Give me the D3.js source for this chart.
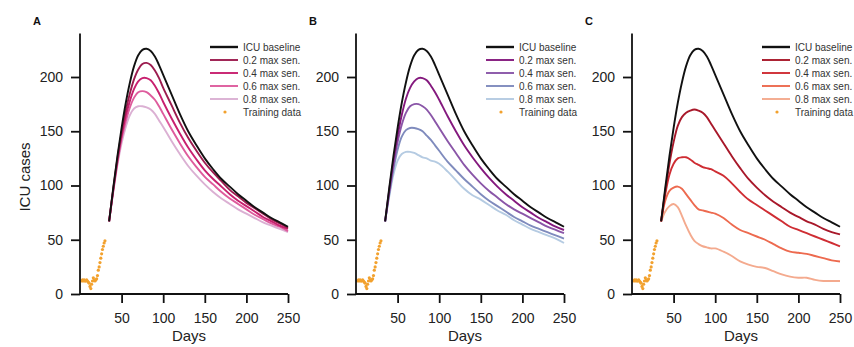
<!DOCTYPE html>
<html>
<head>
<meta charset="utf-8">
<script src="https://cdn.jsdelivr.net/npm/d3@7"></script>
<style>
  body { margin: 0; background: #fff; font-family: "Liberation Sans", Arial, sans-serif; }
  svg { display: block; }
</style>
</head>
<body>
<svg id="chart" width="854" height="347"></svg>
<script>
// days where the projection curves are sampled
let days = [35, 40, 45, 50, 55, 60, 65, 70, 75, 80, 85, 90, 95, 100,
    110, 120, 130, 140, 150, 160, 170, 180, 190, 200, 210, 220, 230, 240, 250];

let baseline = [67, 98, 127, 153, 176, 195, 210, 220, 225, 226, 224, 219, 211, 202,
    184, 166, 150, 137, 125, 115, 106, 99, 92, 86, 80, 75, 70, 66, 62];

// panel A
let a02 = [67, 97, 125, 149, 169, 185, 198, 207, 212, 213, 211, 206, 199, 190,
    174, 158, 144, 132, 121, 112, 104, 96, 90, 84, 79, 74, 69, 65, 61];
let a04 = [67, 96, 123, 146, 164, 178, 189, 196, 199, 199, 197, 192, 185, 177,
    162, 148, 135, 124, 114, 106, 99, 92, 86, 81, 76, 71, 67, 63, 60];
let a06 = [67, 95, 121, 143, 159, 172, 181, 186, 187, 186, 183, 179, 173, 166,
    152, 139, 127, 117, 108, 101, 94, 88, 83, 78, 73, 69, 65, 62, 58];
let a08 = [67, 94, 119, 139, 154, 165, 171, 173, 173, 172, 170, 166, 160, 154,
    141, 129, 118, 109, 101, 94, 88, 83, 78, 74, 70, 66, 63, 60, 57];

// panel B
let b02 = [67, 96, 123, 146, 165, 180, 190, 196, 199, 199, 197, 192, 186, 179,
    164, 150, 137, 126, 116, 107, 99, 92, 86, 80, 75, 70, 66, 62, 59];
let b04 = [67, 94, 119, 140, 156, 167, 173, 175, 175, 173, 170, 165, 159, 153,
    141, 130, 119, 110, 102, 95, 89, 83, 78, 74, 70, 66, 62, 59, 56];
let b06 = [67, 92, 115, 133, 145, 151, 153, 153, 152, 150, 146, 142, 137, 132,
    122, 114, 106, 99, 92, 86, 81, 76, 71, 67, 63, 60, 57, 54, 51];
let b08 = [67, 90, 110, 123, 129, 131, 131, 130, 128, 126, 125, 123, 122, 120,
    113, 105, 97, 91, 87, 82, 77, 73, 68, 64, 60, 57, 54, 51, 47];

// panel C
let c02 = [67, 95, 120, 140, 155, 163, 167, 169, 170, 169, 167, 163, 157, 151,
    139, 127, 116, 106, 98, 91, 85, 80, 75, 71, 67, 64, 60, 57, 55];
let c04 = [67, 92, 110, 120, 125, 126, 126, 124, 121, 119, 117, 116, 115, 113,
    109, 102, 94, 87, 82, 77, 72, 67, 62, 59, 56, 53, 50, 47, 44];
let c06 = [67, 86, 95, 98, 99, 97, 92, 87, 82, 78, 77, 76, 75, 74,
    70, 64, 59, 56, 53, 50, 46, 42, 39, 38, 37, 35, 33, 31, 30];
let c08 = [67, 76, 81, 83, 80, 72, 63, 55, 49, 46, 44, 43, 42, 42,
    39, 35, 30, 27, 25, 24, 21, 18, 16, 15, 15, 13, 12, 12, 12];

// training data
let trainDays = [2, 3, 4, 5, 6, 7, 8, 9, 10, 11, 12, 13, 14, 15, 16, 17, 18, 19, 20,
    21, 22, 23, 24, 25, 26, 27, 28, 29, 30];
let trainVals = [12, 13, 12, 13, 12, 12, 13, 12, 11, 10, 7, 5, 9, 12, 15, 13, 12, 13, 14,
    17, 22, 25, 29, 33, 37, 41, 44, 47, 49];

let legendLabels = ["ICU baseline", "0.2 max sen.", "0.4 max sen.", "0.6 max sen.", "0.8 max sen.", "Training data"];
let xTicks = [50, 100, 150, 200, 250];
let yTicks = [0, 50, 100, 150, 200];

let panels = [
    {label: "A", left: 80, series: [a02, a04, a06, a08],
     colors: ["#9c1c4f", "#c8206f", "#de5c9d", "#dbb0d3"]},
    {label: "B", left: 356, series: [b02, b04, b06, b08],
     colors: ["#84197e", "#8a56a8", "#7f8bbd", "#b5cbe2"]},
    {label: "C", left: 632, series: [c02, c04, c06, c08],
     colors: ["#a8182a", "#cf2d33", "#ed6a4f", "#f4aa8e"]}
];

let svg = d3.select("#chart");
let plotW = 208;
let y = d3.scaleLinear().domain([0, 240]).range([294, 33.6]);
let orange = "#f2a12e";

function draw_panel(p, idx) {
    let x = d3.scaleLinear().domain([0, 250]).range([p.left, p.left + plotW]);
    let g = svg.append("g");

    let line = d3.line()
        .x((d, i) => x(days[i]))
        .y(d => y(d))
        .curve(d3.curveCatmullRom.alpha(0.5));

    // training dots
    g.append("g").selectAll("circle")
        .data(trainVals)
        .join("circle")
        .attr("cx", (d, i) => x(trainDays[i]))
        .attr("cy", d => y(d))
        .attr("r", 1.6)
        .attr("fill", orange);

    // sensitivity curves, lightest first so darker ones sit on top
    let all = [baseline].concat(p.series);
    let cols = ["#111"].concat(p.colors);
    for (let k = all.length - 1; k >= 0; k--) {
        g.append("path")
            .attr("d", line(all[k]))
            .attr("fill", "none")
            .attr("stroke", cols[k])
            .attr("stroke-width", 1.9);
    }

    // axes
    let xAxis = d3.axisBottom(x).tickValues(xTicks).tickSize(9).tickSizeOuter(0).tickPadding(10);
    let yAxis = d3.axisLeft(y).tickValues(yTicks).tickSize(9).tickSizeOuter(0).tickPadding(8);

    let gx = g.append("g").attr("transform", "translate(0,294)").call(xAxis);
    gx.select(".domain").attr("d", `M${p.left},0H${p.left + plotW}`);
    let gy = g.append("g").attr("transform", `translate(${p.left},0)`).call(yAxis);
    gy.select(".domain").attr("d", `M0,${y(240)}V${y(0)}`);

    [gx, gy].forEach(a => {
        a.selectAll("path, line").attr("stroke", "#111").attr("stroke-width", 1.8);
        a.selectAll("text").attr("font-size", 14).attr("fill", "#222")
            .attr("font-family", "Liberation Sans, Arial, sans-serif");
    });

    g.append("text")
        .attr("x", p.left + 109)
        .attr("y", 341)
        .attr("text-anchor", "middle")
        .attr("font-size", 15)
        .attr("fill", "#222")
        .text("Days");

    g.append("text")
        .attr("x", p.left - 47)
        .attr("y", 25)
        .attr("font-size", 11)
        .attr("font-weight", "bold")
        .attr("fill", "#111")
        .text(p.label);

    if (idx == 0) {
        g.append("text")
            .attr("transform", `translate(30,177) rotate(-90)`)
            .attr("text-anchor", "middle")
            .attr("font-size", 15)
            .attr("fill", "#222")
            .text("ICU cases");
    }

    // legend
    let lg = g.append("g").attr("transform", `translate(${p.left + 130},47)`);
    legendLabels.forEach((lab, i) => {
        let row = lg.append("g").attr("transform", `translate(0,${i * 13})`);
        if (i < 5) {
            row.append("line")
                .attr("x1", 0).attr("x2", 28)
                .attr("stroke", cols[i])
                .attr("stroke-width", i == 0 ? 2.4 : 1.9);
        } else {
            row.append("circle").attr("cx", 15).attr("cy", 0).attr("r", 1.6).attr("fill", orange);
        }
        row.append("text")
            .attr("x", 33)
            .attr("y", 3.5)
            .attr("font-size", 10)
            .attr("fill", "#333")
            .text(lab);
    });
}

panels.forEach((p, i) => draw_panel(p, i));
</script>
</body>
</html>
